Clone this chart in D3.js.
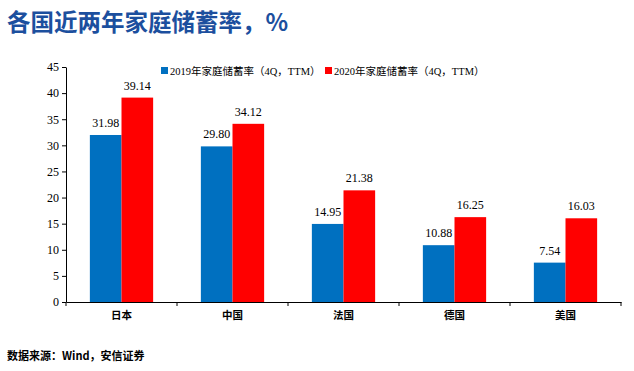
<!DOCTYPE html>
<html><head><meta charset="utf-8">
<script src="https://cdn.jsdelivr.net/npm/d3@7"></script>
<style>
body{margin:0;background:#fff;}
svg{display:block;}
</style></head>
<body>
<svg id="c" width="634" height="371"></svg>
<script>
const categories = ["日本","中国","法国","德国","美国"];
const seriesNames = ["2019年家庭储蓄率（4Q，TTM）","2020年家庭储蓄率（4Q，TTM）"];
const values2019 = [31.98, 29.80, 14.95, 10.88, 7.54];
const values2020 = [39.14, 34.12, 21.38, 16.25, 16.03];
const yTicks = [0,5,10,15,20,25,30,35,40,45];
const colors = ["#0070C0","#FF0000"];

(function(){
const serif = "'Times New Roman','Liberation Serif','Noto Sans CJK SC',serif";
const svg = d3.select("#c");
const mLeft = 66, mRight = 621, mTop = 67, mBottom = 302;

const x = d3.scaleBand().domain(categories).range([mLeft, mRight]).paddingInner(0.43).paddingOuter(0.215);
const xs = d3.scaleBand().domain([0,1]).range([0, x.bandwidth()]);
const y = d3.scaleLinear().domain([0,45]).range([mBottom, mTop]);

// title
svg.append("text").attr("x",7).attr("y",31).text("各国近两年家庭储蓄率，%")
  .attr("font-family","'Noto Sans CJK SC',sans-serif").attr("font-weight","bold")
  .attr("font-size",23.5).attr("fill","#1C4F9E");

// bars
const series = [values2019, values2020];
series.forEach((vals,si)=>{
  const g = svg.append("g");
  g.selectAll("rect").data(categories).join("rect")
    .attr("x", (d)=>x(d)+xs(si)).attr("width", xs.bandwidth())
    .attr("y", (d,i)=>y(vals[i])).attr("height",(d,i)=>y(0)-y(vals[i]))
    .attr("fill", colors[si]);
  g.selectAll("text").data(categories).join("text")
    .attr("x",(d)=>x(d)+xs(si)+xs.bandwidth()/2)
    .attr("y",(d,i)=>y(vals[i])-8)
    .attr("text-anchor","middle")
    .attr("font-family",serif).attr("font-size",12).attr("fill","#000")
    .text((d,i)=>vals[i].toFixed(2));
});

// y axis
const yAxis = d3.axisLeft(y).tickValues(yTicks).tickSize(4).tickPadding(3).tickSizeOuter(0);
const yg = svg.append("g").attr("transform",`translate(${mLeft},0)`).call(yAxis);
yg.selectAll("text").attr("font-family",serif).attr("font-size",12).attr("fill","#000");
yg.selectAll("line,path").attr("stroke","#000");

// x axis
const xAxis = d3.axisBottom(x).tickSize(0).tickPadding(10).tickSizeOuter(0);
const xg = svg.append("g").attr("transform",`translate(0,${mBottom})`).call(xAxis);
xg.selectAll("text").attr("font-family","'Noto Sans CJK SC',serif").attr("font-size",10.5).attr("font-weight","bold").attr("fill","#000");
xg.select("path").attr("stroke","#000");
const step = x.step();
const bounds = d3.range(categories.length+1).map(i=>mLeft+i*step);
xg.selectAll("line.sep").data(bounds).join("line").attr("class","sep")
  .attr("x1",d=>d).attr("x2",d=>d).attr("y1",0).attr("y2",4).attr("stroke","#000");

// legend
const legX = [161, 325];
seriesNames.forEach((n,i)=>{
  const lg = svg.append("g").attr("transform",`translate(${legX[i]},71)`);
  lg.append("rect").attr("x",0).attr("y",-4).attr("width",7).attr("height",7).attr("fill",colors[i]);
  lg.append("text").attr("x",9).attr("y",3.5).text(n)
    .attr("font-family",serif).attr("font-size",10.5).attr("fill","#000");
});

// source
svg.append("text").attr("x",7).attr("y",360).text("数据来源：Wind，安信证券")
  .attr("font-family","'Noto Sans CJK SC',sans-serif").attr("font-weight","bold")
  .attr("font-size",11).attr("fill","#000");
})();
</script>
</body></html>
